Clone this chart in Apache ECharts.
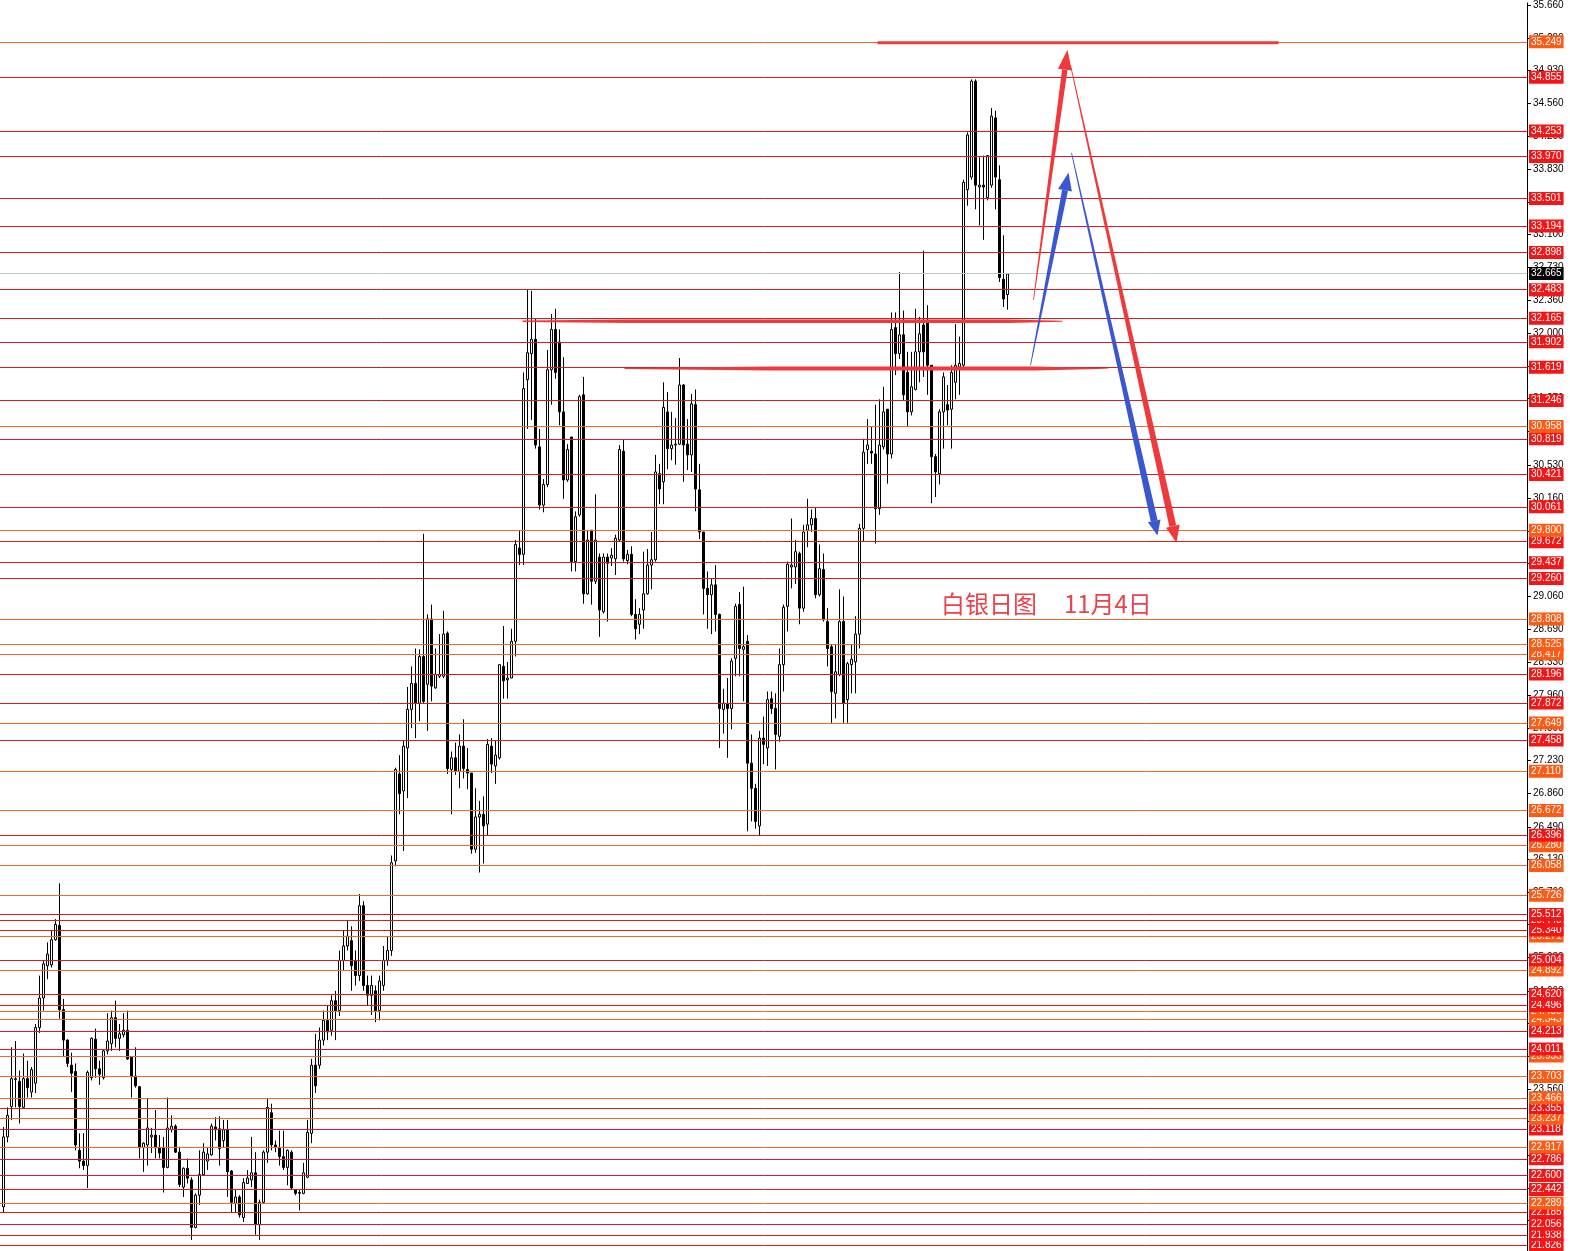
<!DOCTYPE html>
<html><head><meta charset="utf-8">
<script src="https://cdn.jsdelivr.net/npm/echarts@6/dist/echarts.min.js"></script>
<style>html,body{margin:0;padding:0;background:#fff}#c{width:1570px;height:1251px}</style>
</head><body><div id="c"></div>
<script>
// daily candles: [open, close, low, high]
const candles = [
[22.25,23.03,22.19,23.14],[23.03,23.27,22.97,23.36],[23.37,23.68,23.22,24.03],[23.67,23.68,23.36,24.10],[23.65,23.37,23.18,23.77],
[23.36,23.68,23.35,23.96],[23.68,23.58,23.47,23.88],[23.53,23.78,23.47,23.81],[23.63,24.25,23.52,24.29],[24.25,24.58,24.19,24.83],
[24.58,24.96,24.44,25.00],[24.94,25.07,24.79,25.20],[24.95,25.23,24.92,25.33],[25.23,25.40,25.22,25.46],[25.39,24.45,24.35,25.86],
[24.45,24.11,23.92,24.57],[24.11,23.85,23.81,24.12],[23.83,23.74,23.53,23.97],[23.76,22.94,22.88,23.85],[22.88,22.76,22.68,23.07],
[22.76,22.71,22.66,23.07],[22.71,23.75,22.46,23.77],[23.69,24.13,23.66,24.14],[24.12,23.79,23.69,24.24],[23.79,23.73,23.61,23.88],
[23.69,23.99,23.67,24.01],[23.99,24.10,23.95,24.41],[24.07,24.36,23.99,24.44],[24.36,24.13,24.03,24.55],[24.13,24.18,23.99,24.29],
[24.17,24.22,24.14,24.41],[24.22,23.90,23.89,24.44],[23.92,23.71,23.47,23.93],[23.71,23.60,23.58,24.03],[23.59,22.91,22.79,23.60],
[22.91,22.96,22.64,22.97],[22.94,23.13,22.71,23.46],[23.03,23.05,22.85,23.13],[23.05,22.91,22.79,23.33],[22.91,22.85,22.79,23.05],
[22.91,22.69,22.41,23.03],[22.69,23.13,22.68,23.47],[23.11,23.15,23.08,23.27],[23.15,22.86,22.85,23.17],[22.86,22.50,22.47,22.92],
[22.47,22.68,22.36,22.69],[22.68,22.57,22.51,22.79],[22.55,22.02,21.88,22.58],[22.02,22.38,22.01,22.40],[22.38,22.61,22.27,22.88],
[22.61,22.86,22.60,22.96],[22.76,22.84,22.66,22.91],[22.83,23.15,22.82,23.18],[23.14,23.11,22.99,23.25],[23.12,22.90,22.71,23.26],
[22.99,23.11,22.91,23.22],[23.11,22.64,22.36,23.22],[22.65,22.30,22.19,22.66],[22.29,22.36,22.18,22.44],[22.36,22.16,22.13,22.38],
[22.13,22.52,22.08,22.57],[22.51,22.57,22.51,22.66],[22.55,22.63,22.47,23.03],[22.63,22.05,21.94,22.86],[22.05,22.30,21.88,22.33],
[22.30,22.86,22.29,22.88],[22.86,23.36,22.74,23.46],[23.30,22.94,22.88,23.40],[22.94,22.91,22.86,22.99],[22.91,22.81,22.71,23.10],
[22.81,22.69,22.66,23.10],[22.69,22.88,22.49,22.89],[22.86,22.46,22.45,22.88],[22.44,22.40,22.38,22.44],[22.40,22.41,22.21,22.44],
[22.40,22.63,22.39,22.74],[22.58,23.08,22.57,23.22],[23.07,23.83,22.96,23.90],[23.83,23.60,23.52,24.18],[23.83,24.11,23.79,24.25],
[24.11,24.33,24.05,24.44],[24.33,24.20,24.11,24.50],[24.22,24.55,24.16,24.61],[24.55,24.44,24.11,24.66],[24.44,25.00,24.38,25.11],
[25.00,25.16,24.89,25.33],[25.16,25.27,25.11,25.44],[25.22,24.94,24.66,25.38],[25.00,24.83,24.72,25.11],[24.83,25.61,24.77,25.74],
[25.61,24.72,24.66,25.66],[24.72,24.61,24.50,24.83],[24.61,24.72,24.39,24.83],[24.66,24.44,24.31,24.72],[24.44,24.77,24.33,24.83],
[24.72,25.00,24.66,25.16],[25.00,25.11,24.94,25.27],[25.11,26.09,25.05,26.17],[26.11,27.13,26.05,27.15],[27.08,26.86,26.63,27.29],
[26.89,27.39,26.22,27.45],[27.37,27.80,26.81,28.05],[27.80,28.09,27.59,28.28],[28.09,27.87,27.48,28.48],[27.87,28.39,27.67,28.47],
[28.39,27.89,27.87,29.76],[28.08,28.81,27.56,28.86],[28.81,28.06,27.89,28.97],[28.04,28.19,28.03,28.48],[28.17,28.19,28.15,28.64],
[28.17,28.64,28.15,28.90],[28.65,27.14,27.08,28.67],[27.13,27.26,26.63,27.33],[27.26,27.11,27.07,27.43],[27.11,27.39,26.92,27.52],
[27.39,27.14,27.03,27.69],[27.13,27.09,26.91,27.37],[27.09,26.24,26.19,27.09],[26.24,26.60,26.20,26.92],[26.60,26.63,25.98,26.78],
[26.63,26.50,26.08,26.83],[26.52,27.41,26.39,27.47],[27.39,27.19,27.09,27.48],[27.17,27.29,26.97,27.45],[27.26,28.30,27.24,28.30],
[28.28,28.12,27.92,28.73],[28.13,28.15,27.92,28.33],[28.15,28.56,28.15,28.70],[28.56,29.64,28.39,29.69],[29.60,29.53,29.41,29.80],
[29.53,31.38,29.41,31.56],[31.48,31.78,30.93,32.48],[31.77,31.93,31.03,32.47],[31.93,30.75,30.71,32.16],[30.73,30.08,30.03,30.93],
[30.08,30.31,30.00,30.37],[30.31,31.59,30.28,31.81],[31.59,32.04,31.20,32.21],[32.04,31.56,31.49,32.27],[31.90,31.12,30.97,32.04],
[31.12,30.36,30.15,31.73],[30.36,30.70,30.34,30.76],[30.84,29.45,29.34,30.84],[29.45,29.95,29.34,30.01],[29.97,31.29,29.95,31.31],
[31.31,29.09,28.98,31.51],[29.09,29.69,29.08,29.80],[29.80,29.23,28.97,29.80],[29.23,29.69,29.20,30.20],[29.50,28.91,28.61,29.54],
[28.89,29.50,28.87,29.54],[29.50,29.43,28.78,29.54],[29.49,29.52,29.40,29.60],[29.48,29.71,29.30,29.75],[29.69,30.70,29.67,30.75],
[30.68,29.48,29.45,30.81],[29.46,29.53,29.42,29.58],[29.53,28.86,28.84,29.62],[28.86,28.70,28.58,29.03],[28.75,28.86,28.64,28.93],
[28.91,29.09,28.70,29.56],[29.09,29.41,29.08,29.59],[29.41,29.47,29.14,29.78],[29.47,30.45,29.45,30.64],[30.43,30.26,30.09,30.54],
[30.34,31.17,30.09,31.45],[31.12,30.71,30.48,31.34],[30.71,30.75,30.58,31.12],[30.75,30.76,30.53,31.05],[30.76,31.42,30.75,31.72],
[31.42,30.75,30.34,31.43],[30.76,30.64,30.47,31.04],[30.64,31.21,30.45,31.32],[31.20,30.26,30.01,31.37],[30.25,29.78,29.70,30.54],
[29.78,29.15,28.86,29.78],[29.15,29.08,28.70,29.34],[29.08,29.19,28.64,29.26],[29.19,28.86,28.67,29.41],[28.86,27.81,27.37,28.87],
[27.80,27.87,27.53,28.03],[27.86,27.81,27.26,28.15],[27.81,28.34,27.58,28.37],[28.37,28.95,28.17,28.98],[28.97,28.48,28.17,29.11],
[28.47,28.50,27.89,29.17],[28.56,27.20,26.44,28.63],[27.20,26.92,26.55,27.52],[26.92,26.55,26.47,26.97],[26.50,27.48,26.39,27.56],
[27.48,27.41,27.19,27.72],[27.37,27.91,27.17,28.00],[27.92,27.81,27.75,28.00],[27.81,27.52,27.13,27.98],[27.50,28.30,27.44,28.48],
[28.30,28.94,28.00,28.97],[28.95,29.42,28.67,29.45],[29.39,29.41,29.15,29.93],[29.39,29.56,29.20,29.69],[29.54,28.93,28.75,29.56],
[28.93,29.78,28.89,29.86],[29.80,29.86,29.61,30.15],[29.86,29.93,29.78,30.03],[29.93,29.08,29.04,30.06],[29.08,29.37,29.06,29.64],
[29.36,28.80,28.78,29.54],[28.78,28.48,28.28,28.93],[28.50,28.00,27.65,28.52],[27.98,28.22,27.70,28.52],[28.19,28.78,28.17,29.14],
[28.78,27.87,27.65,29.06],[27.91,28.31,27.65,28.33],[28.30,28.36,27.98,28.52],[28.33,28.64,27.98,28.84],[28.64,29.82,28.48,29.87],
[29.82,30.67,29.67,30.82],[30.70,30.75,30.54,31.04],[30.68,30.66,30.54,30.95],[30.65,30.04,29.65,31.20],[30.04,30.75,29.97,31.26],
[30.73,31.12,30.70,31.40],[31.15,30.65,30.32,31.15],[30.65,32.04,30.60,32.23],[32.06,31.77,31.53,32.23],[31.77,31.98,31.71,32.68],
[31.98,31.31,31.25,32.25],[31.56,31.12,30.95,31.79],[31.12,31.40,31.08,31.79],[31.37,31.79,31.36,32.27],[31.79,31.99,31.45,32.18],
[32.09,31.79,31.51,32.92],[32.12,31.64,31.31,32.31],[31.64,30.62,30.10,31.64],[30.62,30.45,30.17,30.65],[30.43,31.12,30.31,31.15],
[31.12,31.51,30.71,31.56],[31.20,31.14,30.97,31.42],[31.15,31.56,30.71,31.64],[31.45,31.64,31.26,32.10],[31.62,31.66,31.31,31.96],
[31.64,33.68,31.62,33.71],[33.60,34.21,33.42,34.24],[33.74,34.81,33.71,34.83],[34.81,33.65,33.38,34.83],[33.63,33.65,33.20,33.96],
[33.65,33.63,33.04,33.98],[33.51,33.98,33.48,33.98],[33.65,34.42,33.62,34.51],[34.40,33.74,33.38,34.48],[33.71,32.62,32.57,33.87],
[32.60,32.38,32.29,33.09],[32.43,32.66,32.26,32.67]
];
const redLevels = [34.855,34.253,33.970,33.501,33.194,32.898,32.483,32.165,31.902,31.619,31.246,30.819,30.421,30.061,29.672,29.437,29.260,
  28.196,27.872,27.458,26.396,25.512,25.443,25.340,25.004,24.620,24.496,24.213,24.011,23.355,23.118,22.786,22.600,22.442,22.185,22.056,21.938,21.826];
const orangeLevels = [35.249,30.958,29.800,28.808,28.525,28.417,27.649,27.110,26.672,26.280,26.058,25.726,25.271,24.892,24.430,24.343,
  23.933,23.703,23.466,23.237,22.917,22.289];
const currentPrice = 32.665;
const tickValues = [35.66,35.29,34.93,34.56,34.20,33.83,33.46,33.10,32.73,32.36,32.00,31.63,31.27,30.90,30.53,30.16,29.79,29.43,29.06,
  28.69,28.33,27.96,27.59,27.23,26.86,26.49,26.13,25.76,25.40,25.03,24.66,24.30,23.93,23.56,23.20,22.83,22.46,22.10];
// hand-drawn objects in [barIndex, price, barIndex, price]
const redBars = [[218.5,35.24,318.75,35.24],[129.75,32.13,264.75,32.13],[155.25,31.605,276.25,31.605]];
const redArrows = [[257.5,32.37,266,35.16],[266.75,34.99,293.25,29.66]];
const blueArrows = [[256.75,31.64,266.25,33.79],[267,34.01,288.5,29.74]];
const caption = '白银日图     11月4日';

const RED_LINE = '#dc1c1c', RED_BOX = '#f41616', ORG_LINE = '#ee6a28', ORG_BOX = '#ff5a14';
const DRAW_RED = '#ee3a3c', DRAW_BLUE = '#3a57d2';

function ribbon(p1, p2, profile, head, color) {
  const dx = p2[0]-p1[0], dy = p2[1]-p1[1], L = Math.hypot(dx, dy);
  const ux = dx/L, uy = dy/L, nx = -uy, ny = ux;
  const end = head ? [p2[0]-ux*head[0], p2[1]-uy*head[0]] : p2;
  const up = [], dn = [];
  profile.forEach(([t, w]) => {
    const x = p1[0] + (end[0]-p1[0])*t, y = p1[1] + (end[1]-p1[1])*t;
    up.push([x+nx*w/2, y+ny*w/2]); dn.unshift([x-nx*w/2, y-ny*w/2]);
  });
  const children = [{type:'polygon', shape:{points: up.concat(dn)}, style:{fill: color}}];
  if (head) children.push({type:'polygon', shape:{points:[p2,[end[0]+nx*head[1]/2,end[1]+ny*head[1]/2],[end[0]-nx*head[1]/2,end[1]-ny*head[1]/2]]}, style:{fill: color}});
  return {type:'group', children};
}
function makeRender(profiles, heads, color) {
  return function (params, api) {
    const p1 = api.coord([api.value(0), api.value(1)]);
    const p2 = api.coord([api.value(2), api.value(3)]);
    return ribbon(p1, p2, profiles[params.dataIndex], heads[params.dataIndex], color);
  };
}

const levelItems = [];
orangeLevels.concat(redLevels).sort((a,b)=>a-b).forEach(v => {
  const isRed = redLevels.indexOf(v) >= 0;
  levelItems.push({yAxis: v, lineStyle:{color: isRed ? RED_LINE : ORG_LINE, width:1, type:'solid'},
    label:{backgroundColor: isRed ? RED_BOX : ORG_BOX}});
});
levelItems.push({yAxis: currentPrice, lineStyle:{color:'#c4c4c4', width:1, type:'solid'}, label:{backgroundColor:'#000'}});

const chart = echarts.init(document.getElementById('c'), null, {renderer:'canvas'});
chart.setOption({
  animation: false,
  backgroundColor: '#fff',
  grid: {left:0, right:43, top:0, bottom:0},
  xAxis: {type:'value', min:-0.875, max:380.875, show:false},
  yAxis: {type:'value', position:'right', min:21.757, max:35.683,
    axisLine:{show:true, onZero:false, lineStyle:{color:'#000', width:1}},
    splitLine:{show:false},
    axisTick:{show:true, customValues: tickValues, length:4, lineStyle:{color:'#000'}},
    axisLabel:{customValues: tickValues, formatter: v => v.toFixed(3), color:'#000', fontSize:10,
      fontFamily:'Liberation Sans, Arial, sans-serif', margin:6}},
  graphic: [{type:'text', left:941, top:592, z:100,
    style:{text: caption, fill:'#e8434b', font:'24px "Noto Sans CJK SC", sans-serif'}}],
  series: [
    {type:'candlestick', silent:true, barWidth:2,
      data: candles.map((c, i) => [i, c[0], c[1], c[2], c[3]]),
      encode:{x:0, y:[1,2,3,4]},
      itemStyle:{color:'#fff', color0:'#000', borderColor:'#000', borderColor0:'#000', borderWidth:1},
      markLine:{silent:true, symbol:['none','none'], animation:false, precision:3,
        label:{show:true, position:'end', distance:2, color:'#fff', fontSize:10,
          fontFamily:'Liberation Sans, Arial, sans-serif', padding:[2,2,1,2],
          formatter: p => Number(p.value).toFixed(3)},
        data: levelItems}},
    {type:'custom', silent:true, z:10, data: redBars, encode:{x:[0,2], y:[1,3]},
      renderItem: makeRender([[[0,3],[1,3]], [[0,1.5],[0.2,3.5],[0.9,3.5],[1,1]], [[0,1],[0.3,4],[0.85,4],[1,0.5]]],
        [null,null,null], DRAW_RED)},
    {type:'custom', silent:true, z:11, data: blueArrows, encode:{x:[0,2], y:[1,3]},
      renderItem: makeRender([[[0,0.8],[1,6]], [[0,0.8],[1,7]]], [[18,14],[15,13]], DRAW_BLUE)},
    {type:'custom', silent:true, z:12, data: redArrows, encode:{x:[0,2], y:[1,3]},
      renderItem: makeRender([[[0,0.8],[1,5.5]], [[0,0.8],[1,7]]], [[20,14],[17,14]], DRAW_RED)}
  ]
});
</script></body></html>
